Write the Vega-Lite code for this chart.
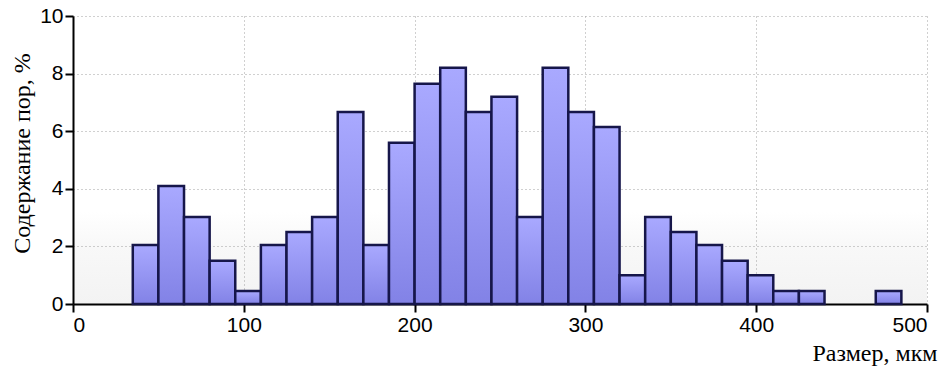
{
  "$schema": "https://vega.github.io/schema/vega-lite/v6.json",
  "width": 854,
  "height": 288,
  "autosize": {"type": "none"},
  "padding": {"left": 73, "top": 16, "right": 20, "bottom": 66},
  "background": "white",
  "config": {
    "view": {
      "stroke": null,
      "fill": {"gradient": "linear", "x1": 0, "y1": 0, "x2": 0, "y2": 1,
        "stops": [{"offset": 0, "color": "#ffffff"}, {"offset": 0.68, "color": "#ffffff"}, {"offset": 0.8, "color": "#f8f8f8"}, {"offset": 1, "color": "#f3f3f3"}]}
    }
  },
  "data": {
    "values": [
      {"start": 35, "end": 50, "pct": 2.05},
      {"start": 50, "end": 65, "pct": 4.1},
      {"start": 65, "end": 80, "pct": 3.02},
      {"start": 80, "end": 95, "pct": 1.5},
      {"start": 95, "end": 110, "pct": 0.45},
      {"start": 110, "end": 125, "pct": 2.05},
      {"start": 125, "end": 140, "pct": 2.5},
      {"start": 140, "end": 155, "pct": 3.02},
      {"start": 155, "end": 170, "pct": 6.67},
      {"start": 170, "end": 185, "pct": 2.05},
      {"start": 185, "end": 200, "pct": 5.6},
      {"start": 200, "end": 215, "pct": 7.65},
      {"start": 215, "end": 230, "pct": 8.2},
      {"start": 230, "end": 245, "pct": 6.67},
      {"start": 245, "end": 260, "pct": 7.2},
      {"start": 260, "end": 275, "pct": 3.02},
      {"start": 275, "end": 290, "pct": 8.2},
      {"start": 290, "end": 305, "pct": 6.67},
      {"start": 305, "end": 320, "pct": 6.15},
      {"start": 320, "end": 335, "pct": 1.0},
      {"start": 335, "end": 350, "pct": 3.02},
      {"start": 350, "end": 365, "pct": 2.5},
      {"start": 365, "end": 380, "pct": 2.05},
      {"start": 380, "end": 395, "pct": 1.5},
      {"start": 395, "end": 410, "pct": 1.0},
      {"start": 410, "end": 425, "pct": 0.45},
      {"start": 425, "end": 440, "pct": 0.45},
      {"start": 470, "end": 485, "pct": 0.45}
    ]
  },
  "mark": {
    "type": "rect",
    "stroke": "#16164a",
    "strokeWidth": 2.5,
    "fill": {"gradient": "linear", "x1": 0, "y1": 0, "x2": 0, "y2": 1,
      "stops": [{"offset": 0, "color": "#a9a9ff"}, {"offset": 1, "color": "#8282e6"}]}
  },
  "encoding": {
    "x": {
      "field": "start", "type": "quantitative",
      "scale": {"domain": [0, 500], "nice": false, "zero": false},
      "axis": {
        "values": [0, 100, 200, 300, 400, 500],
        "title": "Размер, мкм",
        "titleFont": "'Liberation Serif', 'Times New Roman', 'DejaVu Serif', serif", "titleFontSize": 24, "titleFontWeight": "normal", "titleColor": "#000",
        "titleAnchor": "end", "titleAlign": "right", "titleX": 864, "titleY": 56, "titleBaseline": "alphabetic",
        "labelFont": "'Liberation Sans', Arial, sans-serif", "labelFontSize": 21, "labelColor": "#000", "labelPadding": 2,
        "domainColor": "#000", "domainWidth": 2, "tickColor": "#000", "tickWidth": 2, "tickSize": 8,
        "grid": true, "gridColor": "#a0a0a0", "gridDash": [1, 3], "gridWidth": 1
      }
    },
    "x2": {"field": "end"},
    "y": {
      "field": "pct", "type": "quantitative",
      "scale": {"domain": [0, 10], "nice": false},
      "axis": {
        "values": [0, 2, 4, 6, 8, 10],
        "title": "Содержание пор, %",
        "titleFont": "'Liberation Serif', 'Times New Roman', 'DejaVu Serif', serif", "titleFontSize": 24, "titleFontWeight": "normal", "titleColor": "#000",
        "titleX": -51, "titleY": 137, "titleAlign": "center", "titleAngle": -90, "titleBaseline": "middle",
        "labelFont": "'Liberation Sans', Arial, sans-serif", "labelFontSize": 21, "labelColor": "#000", "labelPadding": 2,
        "domainColor": "#000", "domainWidth": 2, "tickColor": "#000", "tickWidth": 2, "tickSize": 8,
        "grid": true, "gridColor": "#a0a0a0", "gridDash": [1, 3], "gridWidth": 1
      }
    },
    "y2": {"datum": 0}
  }
}
